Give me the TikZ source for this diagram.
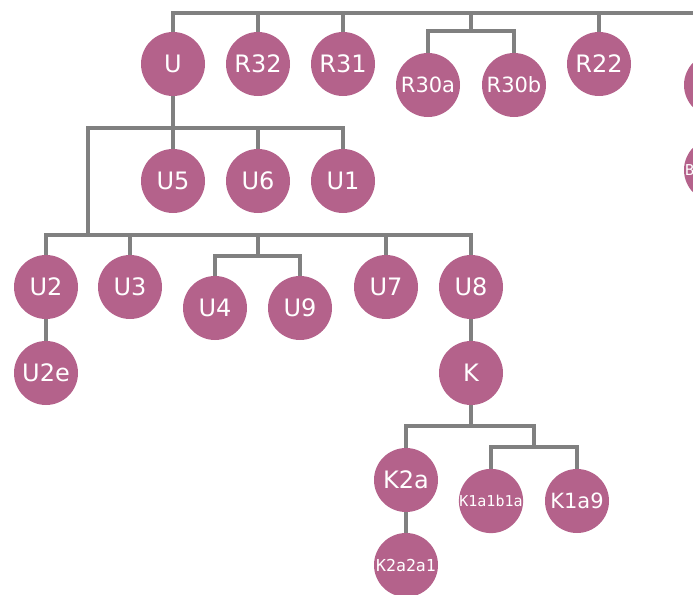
\documentclass[tikz,border=0pt]{standalone}
\usepackage{fontspec}
\setmainfont{DejaVu Sans}
\newfontfamily\smallmono{DejaVu Sans Mono}
\definecolor{hap}{HTML}{B4628B}
\definecolor{link}{HTML}{808080}
\begin{document}
\begin{tikzpicture}[x=1pt,y=-1pt,
  hnode/.style={circle,fill=hap,text=white,minimum size=64pt,inner sep=0pt,font=\fontsize{24}{24}\selectfont},
  hmid/.style={hnode,font=\fontsize{21}{21}\selectfont},
  hsmall/.style={hnode,font=\smallmono\fontsize{15}{15}\selectfont},
  tree/.style={draw=link,line width=3.2pt}]
\useasboundingbox (0,0) rectangle (693,594);
% top level
\node[hnode] (U) at (173,64) {U};
\node[hnode] (R32) at (258,64) {R32};
\node[hnode] (R31) at (343,64) {R31};
\node[hmid] (R30a) at (428,85) {R30a};
\node[hmid] (R30b) at (514,85) {R30b};
\node[hnode] (R22) at (599,64) {R22};
\node[hnode] (R20) at (716,85) {};
\node[hsmall] (Bc) at (716,170) {};
\node[anchor=west,inner sep=0pt,text=white,font=\smallmono\fontsize{15}{15}\selectfont] (B) at (685,170) {B};
% U subtree
\node[hnode] (U5) at (173,181) {U5};
\node[hnode] (U6) at (258,181) {U6};
\node[hnode] (U1) at (343,181) {U1};
\node[hnode] (U2) at (46,287) {U2};
\node[hnode] (U3) at (130,287) {U3};
\node[hnode] (U4) at (215,308) {U4};
\node[hnode] (U9) at (300,308) {U9};
\node[hnode] (U7) at (386,287) {U7};
\node[hnode] (U8) at (471,287) {U8};
\node[hnode] (U2e) at (46,373) {U2e};
\node[hnode] (K) at (471,373) {K};
\node[hnode] (K2a) at (406,480) {K2a};
\node[hsmall] (K1a1b1a) at (491,501) {K1a1b1a};
\node[hmid] (K1a9) at (577,501) {K1a9};
\node[hsmall,font=\smallmono\fontsize{16.5}{16.5}\selectfont] (K2a2a1) at (406,565) {K2a2a1};
% branch points
\coordinate (top) at (173,13);
\coordinate (r30) at (471,31);
\coordinate (ub) at (173,128);
\coordinate (uj) at (88,128);
\coordinate (ul) at (88,235);
\coordinate (u49) at (258,256);
\coordinate (kb) at (471,426);
\coordinate (kj) at (534,447);
\coordinate (topend) at (700,13);
% connectors
\begin{scope}[on background layer/.try]
\draw[tree] (U.north) |- (top) -- (topend);
\draw[tree] (R32.north) -- (R32.north |- top);
\draw[tree] (R31.north) -- (R31.north |- top);
\draw[tree] (r30 |- top) -- (r30);
\draw[tree] (R30a.north) |- (r30) -| (R30b.north);
\draw[tree] (R22.north) -- (R22.north |- top);
\draw[tree] (U.south) -- (ub);
\draw[tree] (ul) -- (uj) -| (U1.north);
\draw[tree] (U5.north) -- (U5.north |- uj);
\draw[tree] (U6.north) -- (U6.north |- uj);
\draw[tree] (U2.north) |- (ul) -| (U8.north);
\draw[tree] (U3.north) -- (U3.north |- ul);
\draw[tree] (U7.north) -- (U7.north |- ul);
\draw[tree] (u49 |- ul) -- (u49);
\draw[tree] (U4.north) |- (u49) -| (U9.north);
\draw[tree] (U2.south) -- (U2e.north);
\draw[tree] (U8.south) -- (K.north);
\draw[tree] (K.south) -- (kb);
\draw[tree] (K2a.north) |- (kb) -| (kj);
\draw[tree] (K1a1b1a.north) |- (kj) -| (K1a9.north);
\draw[tree] (K2a.south) -- (K2a2a1.north);
\draw[tree] (R20.south) -- (Bc.north);
\end{scope}
\end{tikzpicture}
\end{document}
